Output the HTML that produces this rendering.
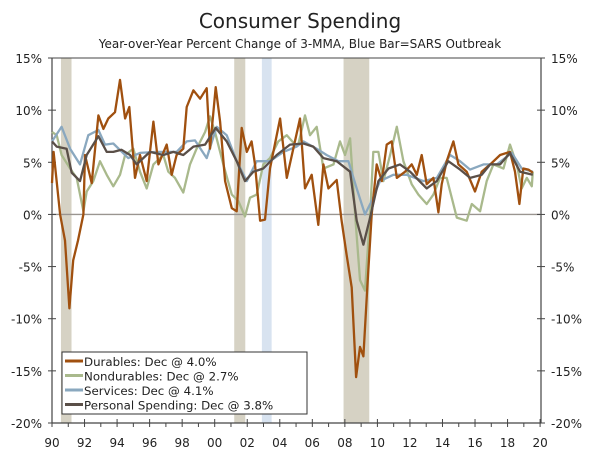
<!DOCTYPE html>
<html><head><meta charset="utf-8"><style>
body{margin:0;background:#fff;width:600px;height:463px;overflow:hidden;font-family:"DejaVu Sans","Liberation Sans",sans-serif;}
</style></head><body>
<svg id="chart" width="600" height="463" xmlns="http://www.w3.org/2000/svg">
<text x="300" y="28" text-anchor="middle" font-size="20" fill="#222">Consumer Spending</text>
<text x="300" y="48" text-anchor="middle" font-size="12" fill="#222">Year-over-Year Percent Change of 3-MMA, Blue Bar=SARS Outbreak</text>
<g id="bands"></g><g id="axes"></g><g id="lines"></g><g id="legend"></g>
</svg>
<script>
const durYears=[1990,1990.1,1990.5,1990.8,1991.07,1991.3,1991.6,1991.93,1992.03,1992.44,1992.85,1993.16,1993.46,1993.87,1994.18,1994.49,1994.75,1995.1,1995.41,1995.82,1996.23,1996.54,1997.05,1997.36,1997.66,1998.07,1998.28,1998.69,1999.1,1999.51,1999.71,2000.06,2000.33,2000.64,2001.05,2001.35,2001.66,2001.97,2002.27,2002.48,2002.79,2003.09,2003.4,2004.02,2004.43,2004.7,2005.24,2005.55,2005.96,2006.37,2006.68,2006.99,2007.5,2007.8,2008.1,2008.42,2008.69,2008.93,2009.14,2009.38,2009.65,2009.96,2010.27,2010.57,2010.88,2011.19,2011.7,2012.11,2012.42,2012.72,2013.03,2013.44,2013.75,2013.95,2014.26,2014.67,2014.98,2015.49,2016,2016.41,2016.93,2017.54,2018.15,2018.46,2018.73,2018.97,2019.28,2019.55];
const durVals=[3,6,0,-2.5,-9,-4.4,-2.5,0,5.7,3,9.5,8.2,9.2,9.8,12.9,9.2,10.3,3.5,5.7,3.2,8.9,4.8,6.7,3.8,5.7,6.3,10.3,11.9,11.1,12.1,6.3,12.2,8.9,3.2,0.6,0.3,8.3,6,7,4.8,-0.6,-0.5,4.4,9.2,3.5,5.4,9.2,2.5,3.8,-1,4.8,2.5,3.3,-0.6,-3.8,-7,-15.6,-12.7,-13.6,-7,0,4.8,3.2,6.7,7,3.5,4.1,4.8,3.8,5.7,2.9,3.5,0.2,2.9,5.1,7,4.8,4.1,2.2,4.1,4.8,5.7,6,4.1,1,4.4,4.3,4.0];
const nonYears=[1990,1990.29,1990.59,1991.11,1991.52,1991.93,1992.13,1992.54,1992.95,1993.36,1993.77,1994.18,1994.49,1995,1995.41,1995.82,1996.23,1996.84,1997.15,1997.56,1998.07,1998.48,1998.89,1999.41,1999.71,2000.02,2000.53,2001.05,2001.45,2001.86,2002.17,2002.58,2002.99,2003.4,2003.91,2004.43,2004.94,2005.14,2005.55,2005.86,2006.27,2006.68,2007.3,2007.7,2008.01,2008.32,2008.63,2008.93,2009.24,2009.55,2009.75,2010.06,2010.37,2010.78,2011.19,2011.6,2012.11,2012.52,2013.03,2013.44,2013.85,2014.26,2014.88,2015.49,2015.8,2016.31,2016.72,2017.13,2017.75,2018.15,2018.56,2018.87,2019.18,2019.49,2019.55];
const nonVals=[7.9,7.6,5.7,4.4,3.5,0.3,2.2,3.2,5.1,3.8,2.7,3.8,5.7,6.3,4.1,2.5,4.8,5.7,4.1,3.5,2.1,4.8,6.3,7.9,9.4,7.9,4.8,1.9,1.3,-0.2,1.6,1.9,4.8,5.4,7,7.6,6.7,6.7,9.5,7.6,8.4,4.4,4.8,7,5.7,7.3,0,-6.3,-7.3,0,6,6,3.2,5.7,8.4,5.1,2.9,1.9,1,1.9,3.5,3.5,-0.3,-0.6,1,0.3,3.2,4.8,4.4,6.7,4.8,2.5,3.5,2.7,4.1];
const svcYears=[1990,1990.59,1991.11,1991.72,1992.23,1992.85,1993.26,1993.77,1994.69,1995.41,1996.43,1997.66,1998.28,1998.79,1999.51,2000.12,2000.74,2001.35,2001.97,2002.58,2003.4,2004.22,2005.04,2005.45,2006.27,2006.88,2007.6,2008.22,2008.73,2009.24,2009.65,2010.16,2010.98,2011.8,2012.83,2013.65,2014.47,2015.08,2015.7,2016.52,2017.34,2018.26,2018.87,2019.55];
const svcVals=[7,8.4,6.3,4.8,7.6,8.1,6.7,6.8,5.4,5.9,6,6,7,7.1,5.4,8.4,7.6,5.1,3.2,5.1,5.1,6,6.5,7,6.3,5.7,5.1,5.1,2.5,0,1.3,3.2,3.8,3.8,3.2,3.5,5.7,5.1,4.3,4.8,4.8,5.9,4.4,4.1];
const pceYears=[1990,1990.29,1990.9,1991.21,1991.72,1992.13,1992.85,1993.36,1993.77,1994.28,1994.8,1995.2,1996.02,1996.84,1997.46,1998.07,1998.69,1999.41,2000.06,2000.74,2001.35,2001.86,2002.38,2002.99,2003.81,2004.63,2005.45,2006.06,2006.68,2007.5,2008.32,2008.73,2009.14,2009.55,2010.06,2010.68,2011.39,2012.01,2012.52,2013.03,2013.65,2014.36,2015.08,2015.7,2016.41,2016.93,2017.54,2018.15,2018.77,2019.55];
const pceVals=[7,6.5,6.3,4,3.2,5.7,7.5,6,6,6.2,5.7,4.8,6,5.7,6,5.7,6.5,6.7,8.3,7,5.1,3.2,4.1,4.4,5.7,6.7,6.8,6.5,5.4,5.1,4.1,-0.6,-2.9,-0.3,3.2,4.4,4.8,4.1,3.3,2.5,3.2,5.1,4.3,3.5,3.8,4.8,4.8,5.9,4.1,3.8];
const yTicks=[15,10,5,0,-5,-10,-15,-20];
const xTickLabels=["90","92","94","96","98","00","02","04","06","08","10","12","14","16","18","20"];
const recessions=[[1990.55,1991.2],[2001.2,2001.88],[2007.92,2009.5]];
const sars=[[2002.9,2003.5]];
const legendLabels=["Durables: Dec @ 4.0%","Nondurables: Dec @ 2.7%","Services: Dec @ 4.1%","Personal Spending: Dec @ 3.8%"];

const L=52,R=541,T=58,B=423,X0=1990,PX=16.27;
const xs=y=>L+(y-X0)*PX;
const ys=v=>T+(15-v)*(B-T)/35;
const NS="http://www.w3.org/2000/svg";
function mk(tag,attrs,parent){const e=document.createElementNS(NS,tag);for(const k in attrs)e.setAttribute(k,attrs[k]);parent.appendChild(e);return e;}
const bands=document.getElementById('bands'),axes=document.getElementById('axes'),lines=document.getElementById('lines'),legend=document.getElementById('legend');
recessions.forEach(r=>{const e=mk('rect',{x:xs(r[0]),y:T,width:xs(r[1])-xs(r[0]),height:B-T,fill:'#d6d2c4'},bands);

});
sars.forEach(r=>{const e=mk('rect',{x:xs(r[0]),y:T,width:xs(r[1])-xs(r[0]),height:B-T,fill:'#d8e3f0'},bands);

});
let f=mk('line',{x1:L,y1:T,x2:R,y2:T,stroke:'#444','stroke-width':1},axes);


f=mk('line',{x1:L,y1:T,x2:L,y2:B,stroke:'#444','stroke-width':1.2},axes);


f=mk('line',{x1:R,y1:T,x2:R,y2:B,stroke:'#444','stroke-width':1.2},axes);


f=mk('line',{x1:L,y1:B,x2:R,y2:B,stroke:'#444','stroke-width':1.2},axes);


f=mk('line',{x1:L,y1:ys(0),x2:R,y2:ys(0),stroke:'#9a9590','stroke-width':1.3},axes);


yTicks.forEach(v=>{
 mk('line',{x1:L-4,y1:ys(v),x2:L+4,y2:ys(v),stroke:'#444'},axes);
 mk('line',{x1:R-4,y1:ys(v),x2:R+4,y2:ys(v),stroke:'#444'},axes);
 const t=mk('text',{x:L-10,y:ys(v)+5,'text-anchor':'end','font-size':12,fill:'#222'},axes);t.textContent=v+'%';
 
 
 const t2=mk('text',{x:R+10,y:ys(v)+5,'font-size':12,fill:'#222'},axes);t2.textContent=v+'%';
 
 
});
xTickLabels.forEach((lab,i)=>{
 const x=xs(X0+2*i);
 mk('line',{x1:x,y1:B-4,x2:x,y2:B+4,stroke:'#444'},axes);
 if(i<15)mk('line',{x1:xs(X0+2*i+1),y1:B,x2:xs(X0+2*i+1),y2:B+4,stroke:'#444'},axes);
 const t=mk('text',{x:x,y:B+24,'text-anchor':'middle','font-size':12,fill:'#222'},axes);t.textContent=lab;
 
 
});
const series=[[nonYears,nonVals,'#a9b98c','nondurables-line'],[svcYears,svcVals,'#8aa8bf','services-line'],[durYears,durVals,'#a0500f','durables-line'],[pceYears,pceVals,'#5a4f48','personal-spending-line']];
series.forEach(s=>{
 const d=s[0].map((y,i)=>(i?'L':'M')+xs(y).toFixed(1)+','+ys(s[1][i]).toFixed(1)).join('');
 const p=mk('path',{d:d,fill:'none',stroke:s[2],'stroke-width':2.3,'stroke-linejoin':'round'},lines);
 
 
});
const lb=mk('rect',{x:62,y:352,width:245,height:62,fill:'#fff',stroke:'#333','stroke-width':1},legend);


const lcol=['#a0500f','#a9b98c','#8aa8bf','#5a4f48'];
legendLabels.forEach((lab,i)=>{
 const y=362+i*14.5;
 mk('line',{x1:65,y1:y-1,x2:83,y2:y-1,stroke:lcol[i],'stroke-width':3},legend);
 const t=mk('text',{x:84,y:y+4,'font-size':11.8,fill:'#222'},legend);t.textContent=lab;
 
 
});
</script>
</body></html>
